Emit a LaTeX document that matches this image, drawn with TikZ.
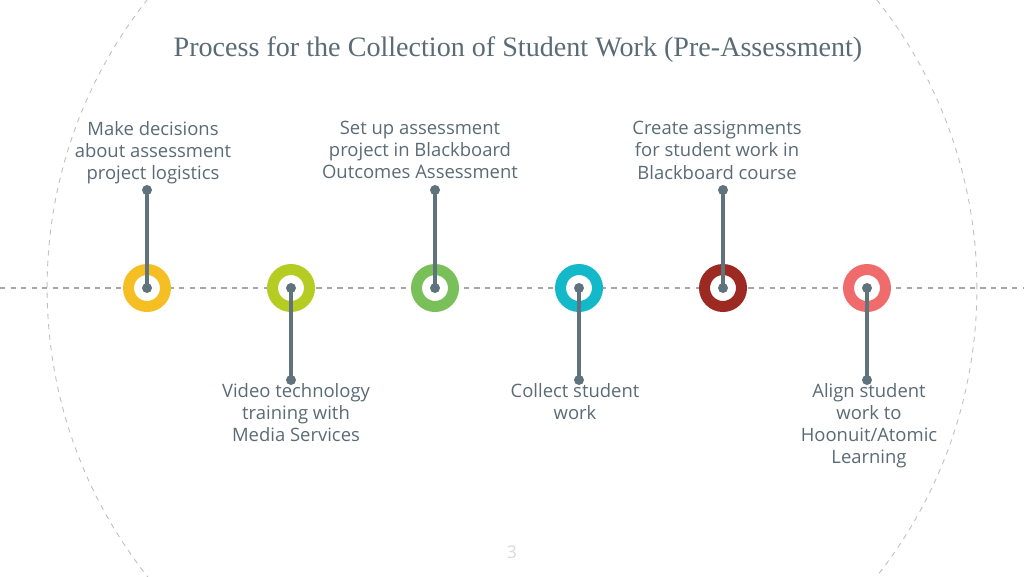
\documentclass[tikz,border=0pt]{standalone}
\usepackage{fontspec}
\setmainfont{Liberation Serif}
\setsansfont{Open Sans}
\usetikzlibrary{positioning}
\definecolor{ink}{HTML}{5A6B75}
\definecolor{stem}{HTML}{5F737D}
\definecolor{c1}{HTML}{F5BE23}
\definecolor{c2}{HTML}{B5CC22}
\definecolor{c3}{HTML}{7AC05A}
\definecolor{c4}{HTML}{13B9C9}
\definecolor{c5}{HTML}{9C2A23}
\definecolor{c6}{HTML}{F06B6B}
\tikzset{
  ring/.style={circle, fill=white, draw=#1, line width=0.22cm, minimum size=0.74cm, inner sep=0pt},
  dot/.style={circle, fill=stem, inner sep=0pt, minimum size=0.2cm},
  stepnote/.style={font=\sffamily\fontsize{10.5}{12.6}\selectfont, text=ink, align=center},
}
\begin{document}
\begin{tikzpicture}[x=0.02cm, y=-0.02cm]
  \useasboundingbox (0,0) rectangle (1024,576);
  \begin{scope}
    \clip (0,0) rectangle (1024,576);
    \draw[gray!50, dashed, line width=0.5pt] (512,288) circle [radius=9.3cm];
  \end{scope}
  \draw[gray!70, dashed, line width=0.6pt] (0,288) -- (1024,288);

  \node[text=ink, font=\fontsize{16}{19}\selectfont] (title) at (518,50) {Process for the Collection of Student Work (Pre-Assessment)};
  \node[text=gray!30, font=\sffamily\fontsize{10}{12}\selectfont] (page) at (512,552) {3};

  % rings on the line
  \foreach \i/\x/\c in {1/147/c1, 2/291/c2, 3/435/c3, 4/579/c4, 5/723/c5, 6/867/c6}{
    \node[ring=\c] (r\i) at (\x,288) {};
  }
  % top notes
  \foreach \i/\x in {1/147, 3/435, 5/723}{
    \node[dot] (t\i) at (\x,190) {};
    \draw[stem, line width=1.8pt] (t\i.center) -- (r\i.center);
    \node[dot] at (r\i.center) {};
  }
  % bottom notes
  \foreach \i/\x in {2/291, 4/579, 6/867}{
    \node[dot] (b\i) at (\x,380) {};
    \draw[stem, line width=1.8pt] (r\i.center) -- (b\i.center);
    \node[dot] at (r\i.center) {};
  }

  \node[stepnote, anchor=north] (n1) at (153,115) {Make decisions\\about assessment\\project logistics};
  \node[stepnote, anchor=north] (n3) at (420,115) {Set up assessment\\project in Blackboard\\Outcomes Assessment};
  \node[stepnote, anchor=north] (n5) at (717,115) {Create assignments\\for student work in\\Blackboard course};
  \node[stepnote, anchor=north] (n2) at (296,377) {Video technology\\training with\\Media Services};
  \node[stepnote, anchor=north] (n4) at (575,377) {Collect student\\work};
  \node[stepnote, anchor=north] (n6) at (869,377) {Align student\\work to\\Hoonuit/Atomic\\Learning};
\end{tikzpicture}
\end{document}
